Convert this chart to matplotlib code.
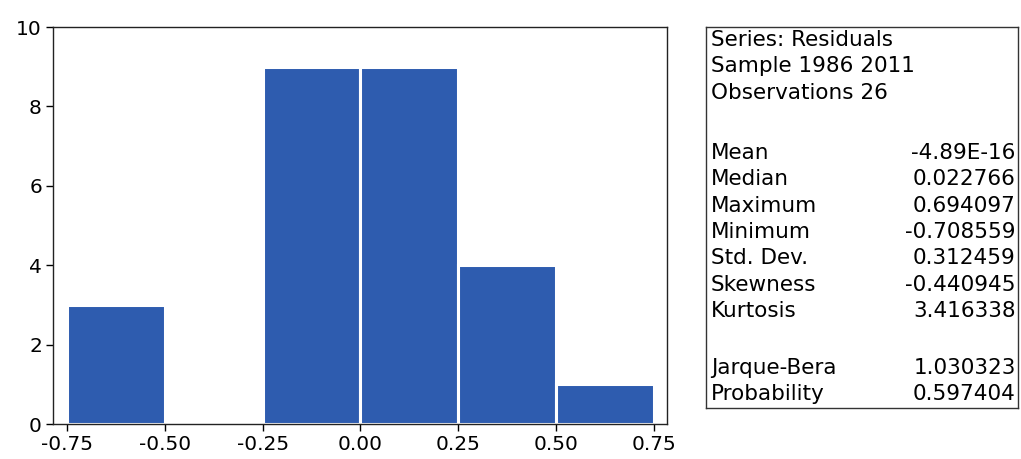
import numpy as np
import matplotlib.pyplot as plt

plt.rcParams['font.family'] = ['DejaVu Sans']

bin_edges = [-0.75, -0.50, -0.25, 0.00, 0.25, 0.50, 0.75]
counts = [3, 0, 9, 9, 4, 1]

header = ["Series: Residuals", "Sample 1986 2011", "Observations 26"]
stat_names = ["Mean", "Median", "Maximum", "Minimum", "Std. Dev.",
              "Skewness", "Kurtosis"]
stat_values = ["-4.89E-16", "0.022766", "0.694097", "-0.708559",
               "0.312459", "-0.440945", "3.416338"]
test_names = ["Jarque-Bera", "Probability"]
test_values = ["1.030323", "0.597404"]

fig = plt.figure(figsize=(10.21, 4.59), dpi=100)
ax = fig.add_axes([0.052, 0.076, 0.601, 0.865])

lefts = np.array(bin_edges[:-1])
widths = np.diff(bin_edges)
ax.bar(lefts, counts, width=widths, align='edge', color='#2E5CAF',
       edgecolor='white', linewidth=2.2)

ax.set_xlim(-0.786, 0.783)
ax.set_ylim(0, 10)
ax.set_xticks(bin_edges)
ax.set_xticklabels([f"{v:.2f}" for v in bin_edges])
ax.set_yticks([0, 2, 4, 6, 8, 10])
ax.tick_params(direction='out', length=5, width=1, labelsize=14.5, pad=3)
for s in ax.spines.values():
    s.set_linewidth(1.0)
    s.set_color('#222222')

# statistics box
bx = fig.add_axes([0.6915, 0.111, 0.3055, 0.830])
bx.set_xlim(0, 1)
bx.set_ylim(0, 1)
bx.set_xticks([])
bx.set_yticks([])
for s in bx.spines.values():
    s.set_linewidth(1.0)
    s.set_color('#333333')

box_top_px = 27
box_h_px = 381
line_px = 26.3
fs = 15.5


def ypos(px):
    return 1 - (px - box_top_px) / box_h_px


y0 = 40
for i, t in enumerate(header):
    bx.text(0.016, ypos(y0 + i * line_px), t, fontsize=fs, va='center', ha='left')

y1 = 153
for i, (n, v) in enumerate(zip(stat_names, stat_values)):
    y = ypos(y1 + i * line_px)
    bx.text(0.016, y, n, fontsize=fs, va='center', ha='left')
    bx.text(0.993, y, v, fontsize=fs, va='center', ha='right')

y2 = 368
for i, (n, v) in enumerate(zip(test_names, test_values)):
    y = ypos(y2 + i * line_px)
    bx.text(0.016, y, n, fontsize=fs, va='center', ha='left')
    bx.text(0.993, y, v, fontsize=fs, va='center', ha='right')

fig.savefig('out.png', dpi=100)
